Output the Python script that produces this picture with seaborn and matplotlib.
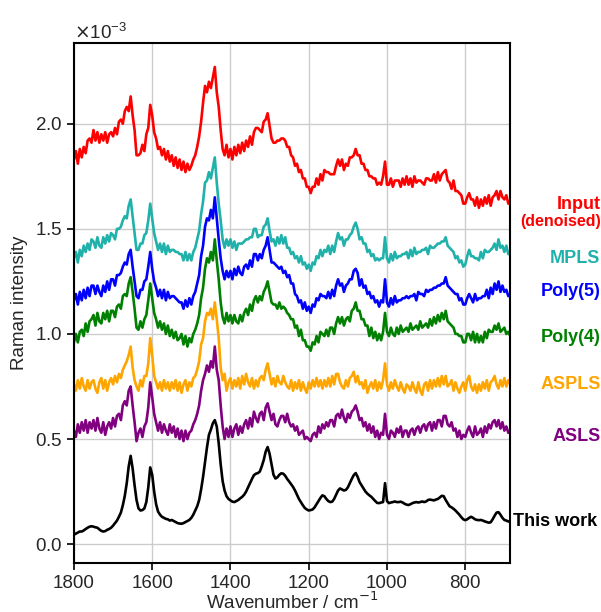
import numpy as np
import pandas as pd
import matplotlib
matplotlib.use("Agg")
import matplotlib.pyplot as plt
import matplotlib.transforms as mtransforms
import seaborn as sns

# Wavenumber grid (cm^-1), 1800 -> 685 in steps of 5
wavenumber = list(range(1800, 684, -5))

# Intensities in units of 1e-3
this_work = [
    0.045, 0.050, 0.055, 0.060, 0.060, 0.065, 0.072, 0.078, 0.083, 0.085,
    0.083, 0.080, 0.078, 0.070, 0.063, 0.060, 0.062, 0.068, 0.072, 0.078,
    0.088, 0.100, 0.112, 0.130, 0.150, 0.185, 0.230, 0.290, 0.370, 0.420,
    0.360, 0.280, 0.210, 0.170, 0.160, 0.162, 0.170, 0.200, 0.270, 0.365,
    0.330, 0.250, 0.190, 0.155, 0.140, 0.130, 0.125, 0.120, 0.118, 0.112,
    0.115, 0.110, 0.105, 0.100, 0.098, 0.097, 0.100, 0.105, 0.110, 0.115,
    0.125, 0.140, 0.160, 0.180, 0.210, 0.260, 0.320, 0.390, 0.460, 0.520,
    0.545, 0.575, 0.590, 0.560, 0.480, 0.380, 0.300, 0.255, 0.228, 0.215,
    0.208, 0.202, 0.200, 0.205, 0.210, 0.218, 0.225, 0.235, 0.250, 0.270,
    0.290, 0.310, 0.328, 0.335, 0.338, 0.345, 0.370, 0.400, 0.440, 0.462,
    0.430, 0.380, 0.330, 0.312, 0.318, 0.330, 0.337, 0.335, 0.325, 0.310,
    0.298, 0.285, 0.272, 0.255, 0.235, 0.215, 0.200, 0.185, 0.172, 0.165,
    0.160, 0.162, 0.165, 0.175, 0.190, 0.205, 0.220, 0.232, 0.228, 0.215,
    0.205, 0.200, 0.202, 0.215, 0.235, 0.255, 0.265, 0.260, 0.255, 0.258,
    0.270, 0.290, 0.310, 0.328, 0.338, 0.320, 0.295, 0.280, 0.265, 0.250,
    0.240, 0.232, 0.225, 0.215, 0.205, 0.196, 0.195, 0.198, 0.200, 0.290,
    0.205, 0.195, 0.198, 0.200, 0.203, 0.200, 0.200, 0.202, 0.198, 0.192,
    0.188, 0.186, 0.190, 0.195, 0.198, 0.200, 0.198, 0.200, 0.203, 0.200,
    0.203, 0.210, 0.212, 0.210, 0.208, 0.212, 0.215, 0.222, 0.230, 0.228,
    0.210, 0.195, 0.180, 0.175, 0.168, 0.160, 0.150, 0.140, 0.128, 0.118,
    0.114, 0.118, 0.125, 0.130, 0.125, 0.118, 0.115, 0.114, 0.115, 0.112,
    0.108, 0.105, 0.102, 0.104, 0.118, 0.135, 0.150, 0.152, 0.140, 0.125,
    0.115, 0.112, 0.108, 0.105,
]

asls = [
    0.54, 0.51, 0.57, 0.53, 0.58, 0.54, 0.59, 0.53, 0.58, 0.55,
    0.59, 0.54, 0.60, 0.55, 0.53, 0.58, 0.52, 0.56, 0.58, 0.55,
    0.60, 0.56, 0.61, 0.62, 0.59, 0.66, 0.68, 0.66, 0.73, 0.75,
    0.66, 0.58, 0.49, 0.53, 0.55, 0.51, 0.56, 0.58, 0.65, 0.77,
    0.70, 0.62, 0.58, 0.54, 0.58, 0.53, 0.57, 0.54, 0.52, 0.57,
    0.53, 0.56, 0.51, 0.55, 0.50, 0.54, 0.49, 0.54, 0.50, 0.53,
    0.54, 0.57, 0.59, 0.62, 0.66, 0.73, 0.78, 0.81, 0.85, 0.82,
    0.87, 0.84, 0.94, 0.83, 0.78, 0.66, 0.56, 0.50, 0.55, 0.51,
    0.56, 0.51, 0.55, 0.57, 0.52, 0.56, 0.53, 0.57, 0.59, 0.55,
    0.60, 0.56, 0.63, 0.60, 0.58, 0.62, 0.63, 0.59, 0.65, 0.67,
    0.63, 0.59, 0.62, 0.57, 0.56, 0.59, 0.61, 0.61, 0.58, 0.62,
    0.58, 0.56, 0.57, 0.54, 0.56, 0.52, 0.53, 0.54, 0.50, 0.51,
    0.50, 0.49, 0.52, 0.53, 0.51, 0.56, 0.53, 0.57, 0.55, 0.58,
    0.56, 0.59, 0.59, 0.56, 0.61, 0.62, 0.60, 0.64, 0.60, 0.58,
    0.62, 0.60, 0.63, 0.64, 0.66, 0.63, 0.59, 0.60, 0.56, 0.58,
    0.54, 0.57, 0.53, 0.56, 0.51, 0.54, 0.50, 0.53, 0.52, 0.62,
    0.52, 0.50, 0.54, 0.53, 0.51, 0.55, 0.53, 0.56, 0.51, 0.54,
    0.54, 0.51, 0.54, 0.55, 0.52, 0.55, 0.56, 0.53, 0.56, 0.57,
    0.54, 0.57, 0.58, 0.54, 0.58, 0.55, 0.59, 0.59, 0.56, 0.61,
    0.61, 0.57, 0.56, 0.58, 0.54, 0.55, 0.51, 0.54, 0.50, 0.52,
    0.51, 0.54, 0.56, 0.53, 0.51, 0.56, 0.52, 0.53, 0.55, 0.51,
    0.56, 0.53, 0.57, 0.55, 0.58, 0.59, 0.56, 0.59, 0.55, 0.58,
    0.54, 0.56, 0.53, 0.53,
]

aspls = [
    0.76, 0.73, 0.78, 0.74, 0.79, 0.75, 0.73, 0.78, 0.74, 0.77,
    0.78, 0.74, 0.72, 0.77, 0.79, 0.74, 0.78, 0.73, 0.77, 0.79,
    0.76, 0.80, 0.77, 0.81, 0.79, 0.83, 0.85, 0.87, 0.90, 0.94,
    0.84, 0.78, 0.75, 0.73, 0.78, 0.75, 0.80, 0.80, 0.86, 0.98,
    0.90, 0.80, 0.77, 0.74, 0.77, 0.73, 0.78, 0.74, 0.77, 0.73,
    0.77, 0.74, 0.78, 0.73, 0.77, 0.72, 0.76, 0.78, 0.73, 0.77,
    0.75, 0.79, 0.80, 0.83, 0.87, 0.95, 0.98, 1.06, 1.10, 1.09,
    1.12, 1.07, 1.15, 1.07, 0.98, 0.84, 0.78, 0.81, 0.73, 0.77,
    0.79, 0.74, 0.78, 0.75, 0.79, 0.74, 0.80, 0.76, 0.81, 0.77,
    0.75, 0.79, 0.74, 0.78, 0.75, 0.79, 0.80, 0.78, 0.83, 0.86,
    0.81, 0.76, 0.79, 0.75, 0.80, 0.77, 0.76, 0.80, 0.77, 0.75,
    0.74, 0.78, 0.73, 0.77, 0.74, 0.78, 0.73, 0.77, 0.74, 0.72,
    0.77, 0.74, 0.78, 0.75, 0.79, 0.75, 0.78, 0.74, 0.78, 0.75,
    0.79, 0.75, 0.80, 0.76, 0.81, 0.81, 0.77, 0.75, 0.74, 0.78,
    0.75, 0.79, 0.80, 0.82, 0.77, 0.80, 0.76, 0.77, 0.74, 0.78,
    0.72, 0.75, 0.77, 0.74, 0.78, 0.73, 0.77, 0.74, 0.78, 0.86,
    0.76, 0.73, 0.77, 0.74, 0.78, 0.75, 0.73, 0.77, 0.74, 0.72,
    0.76, 0.75, 0.73, 0.77, 0.74, 0.72, 0.77, 0.73, 0.71, 0.76,
    0.77, 0.73, 0.78, 0.74, 0.78, 0.75, 0.79, 0.75, 0.80, 0.76,
    0.80, 0.75, 0.76, 0.78, 0.73, 0.77, 0.74, 0.72, 0.75, 0.77,
    0.73, 0.78, 0.80, 0.75, 0.73, 0.76, 0.72, 0.76, 0.73, 0.77,
    0.74, 0.78, 0.73, 0.77, 0.78, 0.80, 0.76, 0.74, 0.78, 0.75,
    0.79, 0.75, 0.78, 0.76,
]

poly4 = [
    0.96, 1.00, 0.96, 1.01, 1.02, 0.99, 1.05, 1.01, 1.06, 1.07,
    1.09, 1.04, 1.10, 1.06, 1.05, 1.10, 1.07, 1.11, 1.06, 1.11,
    1.11, 1.08, 1.13, 1.14, 1.12, 1.18, 1.19, 1.18, 1.24, 1.27,
    1.20, 1.12, 1.03, 1.02, 1.06, 1.03, 1.07, 1.09, 1.16, 1.24,
    1.17, 1.10, 1.07, 1.03, 1.06, 1.02, 1.05, 1.00, 1.04, 0.99,
    1.02, 0.98, 1.01, 0.97, 0.98, 1.00, 0.95, 0.99, 0.94, 0.98,
    0.96, 1.00, 1.02, 1.05, 1.09, 1.17, 1.22, 1.31, 1.36, 1.34,
    1.39, 1.35, 1.45, 1.35, 1.26, 1.15, 1.08, 1.05, 1.10, 1.06,
    1.09, 1.05, 1.09, 1.06, 1.05, 1.09, 1.06, 1.10, 1.12, 1.09,
    1.14, 1.11, 1.16, 1.18, 1.15, 1.18, 1.16, 1.20, 1.22, 1.25,
    1.20, 1.15, 1.14, 1.14, 1.12, 1.15, 1.12, 1.13, 1.12, 1.10,
    1.09, 1.07, 1.07, 1.03, 1.04, 0.99, 1.02, 0.97, 0.97, 0.94,
    0.94, 0.92, 0.96, 0.95, 0.99, 0.96, 1.01, 1.00, 0.99, 1.02,
    0.99, 1.03, 1.03, 1.00, 1.05, 1.08, 1.05, 1.08, 1.04, 1.07,
    1.08, 1.06, 1.11, 1.12, 1.15, 1.11, 1.11, 1.07, 1.07, 1.04,
    1.04, 0.99, 1.03, 0.98, 1.01, 0.97, 1.00, 0.97, 1.01, 1.10,
    1.01, 0.99, 1.03, 1.00, 0.99, 1.03, 1.00, 1.04, 1.01, 1.02,
    1.03, 1.01, 1.05, 1.02, 1.03, 1.04, 1.02, 1.06, 1.03, 1.04,
    1.05, 1.03, 1.07, 1.04, 1.08, 1.05, 1.09, 1.06, 1.10, 1.07,
    1.11, 1.06, 1.05, 1.04, 1.03, 1.00, 1.00, 0.99, 0.99, 0.96,
    0.96, 1.00, 1.00, 0.97, 1.01, 0.96, 1.00, 0.96, 0.99, 0.96,
    1.01, 0.98, 1.02, 1.01, 1.01, 1.04, 1.02, 1.05, 1.01, 1.02,
    1.03, 1.00, 1.01, 0.99,
]

poly5 = [
    1.16, 1.19, 1.14, 1.20, 1.16, 1.21, 1.17, 1.22, 1.18, 1.23,
    1.23, 1.19, 1.23, 1.20, 1.18, 1.23, 1.20, 1.25, 1.21, 1.26,
    1.26, 1.23, 1.28, 1.28, 1.29, 1.32, 1.34, 1.33, 1.38, 1.40,
    1.32, 1.25, 1.18, 1.17, 1.21, 1.21, 1.25, 1.26, 1.32, 1.39,
    1.31, 1.25, 1.22, 1.18, 1.21, 1.17, 1.21, 1.16, 1.20, 1.17,
    1.18, 1.18, 1.17, 1.16, 1.15, 1.15, 1.12, 1.16, 1.13, 1.17,
    1.14, 1.18, 1.20, 1.24, 1.28, 1.37, 1.42, 1.51, 1.55, 1.54,
    1.59, 1.55, 1.65, 1.55, 1.45, 1.36, 1.30, 1.26, 1.30, 1.27,
    1.30, 1.26, 1.31, 1.28, 1.32, 1.29, 1.28, 1.32, 1.33, 1.31,
    1.35, 1.32, 1.38, 1.38, 1.35, 1.38, 1.36, 1.40, 1.42, 1.46,
    1.40, 1.34, 1.34, 1.33, 1.32, 1.31, 1.32, 1.29, 1.30, 1.27,
    1.28, 1.24, 1.24, 1.19, 1.18, 1.15, 1.16, 1.12, 1.15, 1.11,
    1.13, 1.10, 1.14, 1.13, 1.17, 1.16, 1.19, 1.18, 1.18, 1.17,
    1.20, 1.17, 1.21, 1.18, 1.23, 1.26, 1.23, 1.24, 1.20, 1.23,
    1.24, 1.26, 1.26, 1.30, 1.31, 1.29, 1.23, 1.26, 1.22, 1.23,
    1.19, 1.20, 1.17, 1.18, 1.15, 1.16, 1.13, 1.16, 1.15, 1.26,
    1.15, 1.13, 1.17, 1.14, 1.18, 1.15, 1.16, 1.16, 1.17, 1.17,
    1.18, 1.17, 1.18, 1.18, 1.19, 1.16, 1.20, 1.19, 1.19, 1.18,
    1.21, 1.20, 1.21, 1.21, 1.22, 1.22, 1.23, 1.23, 1.24, 1.24,
    1.27, 1.23, 1.22, 1.21, 1.20, 1.19, 1.19, 1.16, 1.17, 1.14,
    1.14, 1.17, 1.19, 1.17, 1.15, 1.19, 1.16, 1.17, 1.17, 1.18,
    1.18, 1.21, 1.17, 1.22, 1.19, 1.24, 1.21, 1.25, 1.20, 1.23,
    1.20, 1.21, 1.18, 1.19,
]

mpls = [
    1.36, 1.39, 1.34, 1.40, 1.37, 1.42, 1.39, 1.43, 1.40, 1.45,
    1.44, 1.41, 1.46, 1.42, 1.41, 1.46, 1.43, 1.47, 1.44, 1.48,
    1.47, 1.45, 1.50, 1.50, 1.51, 1.54, 1.56, 1.55, 1.61, 1.64,
    1.56, 1.48, 1.40, 1.40, 1.43, 1.43, 1.47, 1.48, 1.54, 1.62,
    1.55, 1.48, 1.44, 1.40, 1.43, 1.39, 1.43, 1.38, 1.42, 1.39,
    1.40, 1.40, 1.39, 1.39, 1.38, 1.38, 1.35, 1.39, 1.35, 1.38,
    1.35, 1.39, 1.41, 1.45, 1.49, 1.57, 1.63, 1.72, 1.73, 1.77,
    1.74, 1.79, 1.84, 1.72, 1.62, 1.54, 1.45, 1.41, 1.45, 1.42,
    1.45, 1.41, 1.44, 1.40, 1.43, 1.43, 1.43, 1.44, 1.45, 1.45,
    1.46, 1.46, 1.50, 1.50, 1.46, 1.47, 1.47, 1.51, 1.52, 1.55,
    1.49, 1.44, 1.45, 1.42, 1.46, 1.43, 1.47, 1.43, 1.46, 1.41,
    1.41, 1.38, 1.39, 1.36, 1.37, 1.34, 1.37, 1.33, 1.34, 1.31,
    1.33, 1.30, 1.34, 1.33, 1.37, 1.36, 1.40, 1.37, 1.40, 1.39,
    1.42, 1.38, 1.42, 1.39, 1.44, 1.48, 1.45, 1.46, 1.42, 1.45,
    1.45, 1.47, 1.48, 1.51, 1.53, 1.50, 1.45, 1.46, 1.43, 1.43,
    1.39, 1.40, 1.37, 1.38, 1.35, 1.36, 1.35, 1.36, 1.36, 1.46,
    1.36, 1.34, 1.38, 1.35, 1.39, 1.36, 1.37, 1.37, 1.38, 1.38,
    1.39, 1.36, 1.40, 1.37, 1.41, 1.38, 1.39, 1.39, 1.40, 1.40,
    1.41, 1.38, 1.42, 1.41, 1.41, 1.42, 1.43, 1.43, 1.44, 1.44,
    1.46, 1.42, 1.41, 1.40, 1.39, 1.36, 1.37, 1.34, 1.35, 1.32,
    1.33, 1.37, 1.40, 1.37, 1.37, 1.36, 1.36, 1.35, 1.39, 1.36,
    1.40, 1.39, 1.39, 1.40, 1.41, 1.43, 1.40, 1.45, 1.41, 1.42,
    1.39, 1.42, 1.38, 1.38,
]

input_denoised = [
    1.83, 1.87, 1.81, 1.88, 1.84, 1.89, 1.86, 1.92, 1.93, 1.91,
    1.97, 1.92, 1.96, 1.91, 1.95, 1.92, 1.96, 1.91, 1.95, 1.96,
    1.94, 1.98, 1.95, 2.01, 2.02, 2.00, 2.06, 2.08, 2.06, 2.13,
    2.04, 1.97, 1.85, 1.85, 1.86, 1.90, 1.87, 1.95, 1.98, 2.09,
    2.04, 1.96, 1.93, 1.88, 1.89, 1.85, 1.88, 1.83, 1.87, 1.82,
    1.85, 1.80, 1.84, 1.79, 1.83, 1.78, 1.82, 1.77, 1.81, 1.78,
    1.80, 1.83, 1.85, 1.89, 1.94, 2.01, 2.10, 2.18, 2.15, 2.20,
    2.17, 2.22, 2.27, 2.15, 2.08, 1.97, 1.88, 1.85, 1.90, 1.84,
    1.88, 1.83, 1.89, 1.85, 1.90, 1.86, 1.91, 1.87, 1.92, 1.89,
    1.94, 1.90, 1.96, 1.98, 1.98, 1.97, 1.96, 2.01, 2.02, 2.05,
    1.99, 1.93, 1.91, 1.91, 1.92, 1.92, 1.93, 1.93, 1.92, 1.89,
    1.89, 1.85, 1.84, 1.80, 1.81, 1.77, 1.78, 1.74, 1.74, 1.70,
    1.70, 1.67, 1.70, 1.70, 1.74, 1.71, 1.76, 1.73, 1.78, 1.77,
    1.77, 1.76, 1.76, 1.76, 1.80, 1.83, 1.80, 1.83, 1.78, 1.81,
    1.80, 1.84, 1.84, 1.85, 1.88, 1.85, 1.85, 1.81, 1.81, 1.78,
    1.78, 1.75, 1.75, 1.74, 1.74, 1.71, 1.72, 1.71, 1.75, 1.82,
    1.71, 1.71, 1.74, 1.70, 1.73, 1.73, 1.73, 1.70, 1.74, 1.71,
    1.75, 1.71, 1.74, 1.70, 1.75, 1.72, 1.73, 1.73, 1.72, 1.71,
    1.74, 1.74, 1.73, 1.73, 1.76, 1.72, 1.77, 1.73, 1.76, 1.77,
    1.78, 1.73, 1.72, 1.69, 1.73, 1.68, 1.68, 1.67, 1.66, 1.62,
    1.62, 1.65, 1.67, 1.64, 1.64, 1.61, 1.65, 1.60, 1.64, 1.61,
    1.65, 1.62, 1.66, 1.61, 1.65, 1.66, 1.68, 1.64, 1.68, 1.65,
    1.64, 1.66, 1.62, 1.62,
]

series_names = ["Input", "MPLS", "Poly(5)", "Poly(4)", "ASPLS", "ASLS", "This work"]
series_values = [input_denoised, mpls, poly5, poly4, aspls, asls, this_work]
series_colors = ["red", "lightseagreen", "blue", "green", "orange", "purple", "black"]

# Label text and vertical anchors (units of 1e-3)
label_texts = ["Input", "MPLS", "Poly(5)", "Poly(4)", "ASPLS", "ASLS"]
label_y = [1.615, 1.36, 1.20, 0.985, 0.76, 0.51]
sub_label_text = "(denoised)"
sub_label_y = 1.535
this_work_label_y = 0.11

x_ticks = [1800, 1600, 1400, 1200, 1000, 800]
y_ticks = [0.0, 0.5, 1.0, 1.5, 2.0]

sns.set_style("ticks")
plt.rcParams["font.family"] = ["Liberation Sans", "DejaVu Sans"]
plt.rcParams["mathtext.fontset"] = "dejavusans"

frames = []
for name, vals in zip(series_names, series_values):
    frames.append(pd.DataFrame({
        "wavenumber": wavenumber,
        "intensity": np.array(vals) * 1e-3,
        "series": name,
    }))
df = pd.concat(frames, ignore_index=True)

fig = plt.figure(figsize=(6.01, 6.12), dpi=100)
ax = fig.add_axes([0.123, 0.080, 0.726, 0.850])

sns.lineplot(data=df, x="wavenumber", y="intensity", hue="series",
             hue_order=series_names, palette=series_colors,
             linewidth=1.9, legend=False, ax=ax, estimator=None, sort=True)

ax.set_xlim(1800, 685)
ax.set_ylim(-0.09e-3, 2.385e-3)
ax.set_xticks(x_ticks)
ax.set_yticks([v * 1e-3 for v in y_ticks])
ax.ticklabel_format(axis="y", style="sci", scilimits=(0, 0), useMathText=True)
ax.yaxis.get_offset_text().set_fontsize(13.5)
ax.grid(True, color="#cccccc", linewidth=1.0)
ax.set_axisbelow(True)
for s in ax.spines.values():
    s.set_linewidth(1.5)
    s.set_color("black")
ax.tick_params(axis="both", labelsize=13.5, width=1.2, length=5, color="black")
ax.set_xlabel("Wavenumber / cm$^{-1}$", fontsize=13.5, labelpad=0)
ax.set_ylabel("Raman intensity", fontsize=13.5, labelpad=5)

trans = mtransforms.blended_transform_factory(ax.transAxes, ax.transData)
for txt, yv, col in zip(label_texts, label_y, series_colors[:-1]):
    ax.text(1.207, yv * 1e-3, txt, transform=trans, color=col, fontsize=13,
            fontweight="bold", ha="right", va="center", clip_on=False)
ax.text(1.207, sub_label_y * 1e-3, sub_label_text, transform=trans, color="red",
        fontsize=11.5, fontweight="bold", ha="right", va="center", clip_on=False)
ax.text(1.007, this_work_label_y * 1e-3, "This work", transform=trans, color="black",
        fontsize=13, fontweight="bold", ha="left", va="center", clip_on=False)

fig.savefig("out.png", dpi=100)
